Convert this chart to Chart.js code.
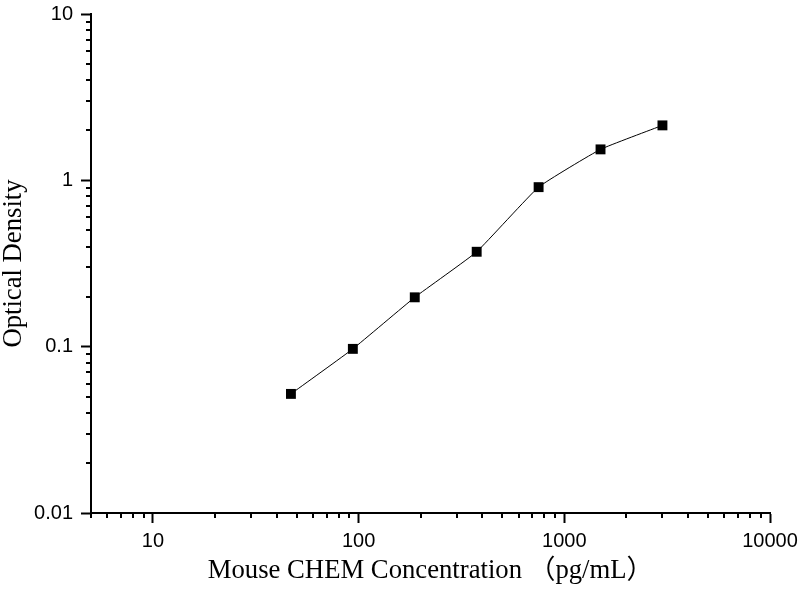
<!DOCTYPE html>
<html>
<head>
<meta charset="utf-8">
<script src="https://cdn.jsdelivr.net/npm/chart.js@4"></script>
<style>
  html, body { margin: 0; padding: 0; background: #fff; }
  #wrap { width: 800px; height: 600px; }
</style>
</head>
<body>
<div id="wrap"><canvas id="chart" width="800" height="600"></canvas></div>
<script>
// --- Data ---
const concentrations = [46.875, 93.75, 187.5, 375, 750, 1500, 3000];
const densities = [0.052, 0.097, 0.198, 0.372, 0.91, 1.535, 2.14];

const xMajorTicks = [10, 100, 1000, 10000];
const yMajorTicks = [0.01, 0.1, 1, 10];
const xRange = [5, 10000];
const yRange = [0.01, 10];

// --- Helpers ---
function decadeTicks(min, max) {
    // 1..9 x 10^n inside the range
    const out = [];
    const lo = Math.floor(Math.log10(min));
    const hi = Math.ceil(Math.log10(max));
    for (let e = lo; e <= hi; e++) {
        for (let m = 1; m <= 9; m++) {
            const v = parseFloat((m * Math.pow(10, e)).toPrecision(6));
            if (v >= min - 1e-12 && v <= max + 1e-12) out.push(v);
        }
    }
    return out;
}

function isMajor(v, majors) {
    return majors.some(m => Math.abs(m - v) / m < 1e-9);
}

function setTicks(majors) {
    return scale => {
        scale.ticks = decadeTicks(scale.min, scale.max).map(v => ({ value: v, major: isMajor(v, majors) }));
    };
}

const tickFont = { family: "'Liberation Sans', Arial, sans-serif", size: 20 };
const titleFont = { family: "'Liberation Serif', 'Noto Sans CJK SC', serif", size: 26.7, lineHeight: 1 };

// minor tick marks are shorter, drawn here through the scales
const minorTicks = {
    id: 'minorTicks',
    afterDraw(chart) {
        const ctx = chart.ctx;
        const xs = chart.scales.x, ys = chart.scales.y;
        ctx.save();
        ctx.strokeStyle = '#000';
        ctx.lineWidth = 2;
        ctx.beginPath();
        xs.ticks.forEach(t => {
            if (t.major) return;
            const px = Math.round(xs.getPixelForValue(t.value));
            ctx.moveTo(px, xs.top);
            ctx.lineTo(px, xs.top + 5);
        });
        ys.ticks.forEach(t => {
            if (t.major) return;
            const py = Math.round(ys.getPixelForValue(t.value));
            ctx.moveTo(ys.right, py);
            ctx.lineTo(ys.right - 5, py);
        });
        ctx.stroke();
        ctx.restore();
    }
};

new Chart(document.getElementById('chart'), {
    type: 'line',
    data: {
        datasets: [{
            data: concentrations.map((c, i) => ({ x: c, y: densities[i] })),
            borderColor: '#000',
            borderWidth: 1,
            backgroundColor: '#000',
            pointStyle: 'rect',
            pointRadius: 7,
            pointHoverRadius: 7,
            pointBorderWidth: 0,
            tension: 0.12,
            fill: false
        }]
    },
    options: {
        responsive: false,
        animation: false,
        layout: { padding: { left: 0, top: 14, right: 30, bottom: 0 } },
        plugins: { legend: { display: false }, tooltip: { enabled: false } },
        scales: {
            x: {
                type: 'logarithmic',
                min: xRange[0],
                max: xRange[1],
                afterBuildTicks: setTicks(xMajorTicks),
                afterFit: s => { s.height = 87; s.paddingLeft = 0; s.paddingRight = 0; },
                border: { display: true, color: '#000', width: 2 },
                grid: {
                    drawOnChartArea: false,
                    drawTicks: true,
                    tickLength: 10,
                    tickWidth: 2,
                    tickColor: c => (c.tick && c.tick.major ? '#000' : 'rgba(0,0,0,0)')
                },
                ticks: {
                    autoSkip: false,
                    maxRotation: 0,
                    padding: 6,
                    color: '#000',
                    font: tickFont,
                    callback: function (v) { return isMajor(v, xMajorTicks) ? String(v) : ''; }
                },
                title: {
                    display: true,
                    text: 'Mouse CHEM Concentration （pg/mL）',
                    color: '#000',
                    font: titleFont,
                    padding: { top: 0, bottom: 16 }
                }
            },
            y: {
                type: 'logarithmic',
                min: yRange[0],
                max: yRange[1],
                afterBuildTicks: setTicks(yMajorTicks),
                afterFit: s => { s.width = 91; s.paddingTop = 0; s.paddingBottom = 0; },
                border: { display: true, color: '#000', width: 2 },
                grid: {
                    drawOnChartArea: false,
                    drawTicks: true,
                    tickLength: 10,
                    tickWidth: 2,
                    tickColor: c => (c.tick && c.tick.major ? '#000' : 'rgba(0,0,0,0)')
                },
                ticks: {
                    autoSkip: false,
                    padding: 8,
                    color: '#000',
                    font: tickFont,
                    callback: function (v) { return isMajor(v, yMajorTicks) ? String(v) : ''; }
                },
                title: {
                    display: true,
                    text: 'Optical Density',
                    color: '#000',
                    font: titleFont,
                    padding: { top: 1, bottom: 0 }
                }
            }
        }
    },
    plugins: [minorTicks]
});
</script>
</body>
</html>
